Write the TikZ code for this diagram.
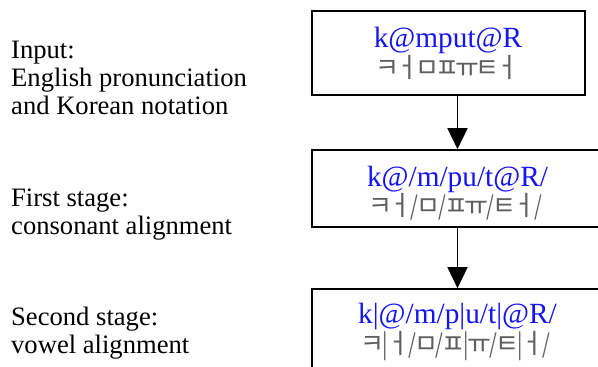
\documentclass[tikz,border=0pt]{standalone}
\usepackage{fontspec}
\setmainfont{Liberation Serif}
\newfontfamily\krfont{Noto Sans CJK KR}
\usetikzlibrary{arrows.meta}
\definecolor{phon}{RGB}{20,20,245}
\definecolor{krgray}{RGB}{95,95,95}
\newcommand{\krtall}[1]{\scalebox{1}[1.3]{#1}}
\newcommand{\jm}[1]{\makebox[20pt]{\scalebox{1.3}[1.05]{#1}}}
\begin{document}
\begin{tikzpicture}[x=1pt,y=1pt,
  box/.style={draw, line width=1.6pt, inner sep=0pt},
  lab/.style={anchor=base west, inner sep=0pt, font=\fontsize{26.6}{28}\selectfont},
  phontext/.style={anchor=base, inner sep=0pt, text=phon, font=\fontsize{29.3}{30}\selectfont},
  krtext/.style={anchor=base, inner sep=0pt, text=krgray, font=\krfont\fontsize{20}{22}\selectfont},
  arr/.style={line width=1.5pt, -{Triangle[width=20pt,length=21pt]}}]
\useasboundingbox (0,0) rectangle (598,-367);
\clip (0,0) rectangle (598,-367);

% boxes
\node[box, minimum width=273pt, minimum height=84pt] (b1) at (448.5,-53) {};
\node[box, minimum width=291pt, minimum height=77pt] (b2) at (457.5,-188.5) {};
\node[box, minimum width=291pt, minimum height=86pt] (b3) at (457.5,-332) {};

% box texts
\node[phontext] (p1) at (448,-47) {k@mput@R};
\node[krtext] (k1) at (447,-77) {\krtall{\jm{ㅋ}\jm{ㅓ}\jm{ㅁ}\jm{ㅍ}\jm{ㅠ}\jm{ㅌ}\jm{ㅓ}}};
\node[phontext] (p2) at (457.5,-186) {k@/m/pu/t@R/};
\node[krtext] (k2) at (456.5,-215) {\krtall{\jm{ㅋ}\jm{ㅓ}/\jm{ㅁ}/\jm{ㅍ}\jm{ㅠ}/\jm{ㅌ}\jm{ㅓ}/}};
\node[phontext] (p3) at (457.5,-323) {k|@/m/p|u/t|@R/};
\node[krtext] (k3) at (456.5,-353) {\krtall{\jm{ㅋ}|\jm{ㅓ}/\jm{ㅁ}/\jm{ㅍ}|\jm{ㅠ}/\jm{ㅌ}|\jm{ㅓ}/}};

% left labels
\node[lab] (l1a) at (11,-58) {Input:};
\node[lab] (l1b) at (11,-86) {English pronunciation};
\node[lab] (l1c) at (11,-114) {and Korean notation};
\node[lab] (l2a) at (11,-206) {First stage:};
\node[lab] (l2b) at (11,-234) {consonant alignment};
\node[lab] (l3a) at (11,-325) {Second stage:};
\node[lab] (l3b) at (11,-353) {vowel alignment};

% arrows
\draw[arr] (b1.south -| b2.north) -- (b2.north);
\draw[arr] (b2.south) -- (b3.north);
\end{tikzpicture}
\end{document}
